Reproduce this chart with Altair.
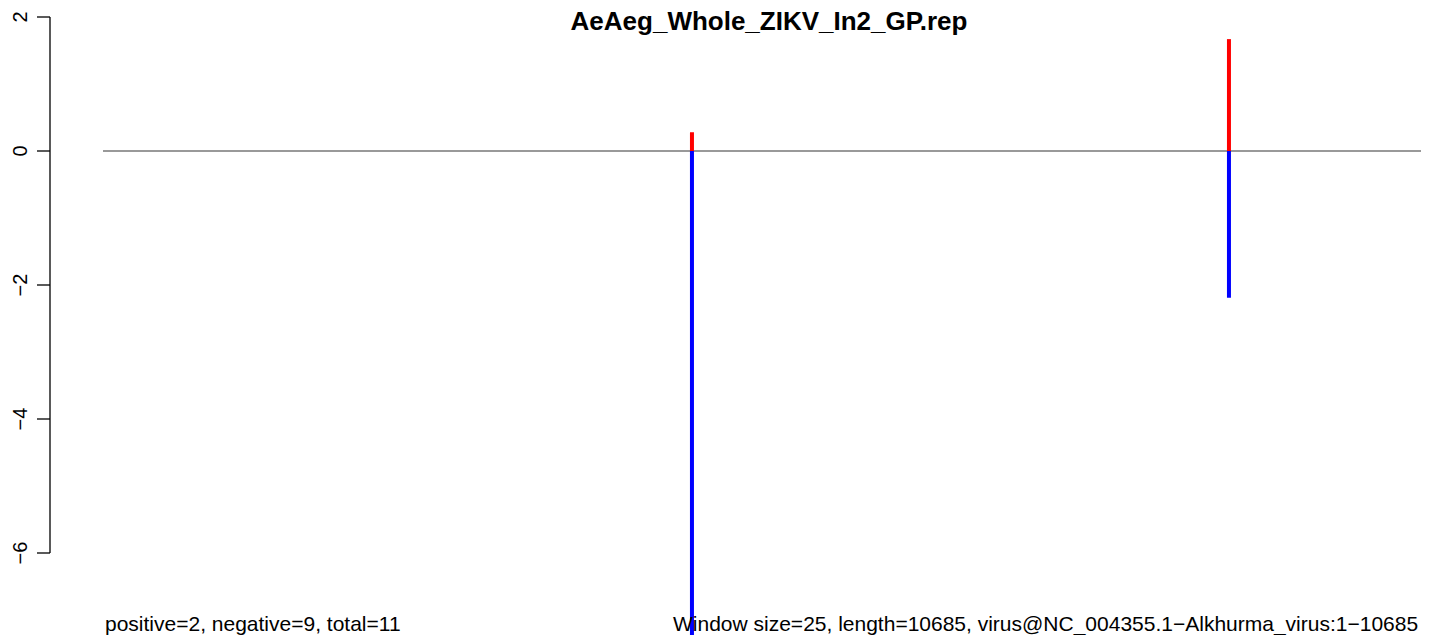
import altair as alt
import pandas as pd

# Data
positions = [4750, 9080]
positive_scores = [0.28, 1.67]
negative_scores = [-7.25, -2.19]
genome_start = 1
genome_length = 10685
y_ticks = [2, 0, -2, -4, -6]

title_text = "AeAeg_Whole_ZIKV_In2_GP.rep"
left_note = "positive=2, negative=9, total=11"
right_note = "Window size=25, length=10685, virus@NC_004355.1\u2212Alkhurma_virus:1\u221210685"

FONT = "Liberation Sans"
W, H = 1413, 627
AX = 42  # view x of the y-axis line (page x = 50)

bars = pd.DataFrame({
    "pos": positions * 2,
    "score": positive_scores + negative_scores,
    "kind": ["positive"] * len(positions) + ["negative"] * len(positions),
})
baseline = pd.DataFrame({"start": [genome_start], "end": [genome_length], "y": [0]})
axisline = pd.DataFrame({"lo": [min(y_ticks)], "hi": [max(y_ticks)]})
ticks_df = pd.DataFrame({
    "v": y_ticks,
    "label": [str(v).replace("-", "\u2212") for v in y_ticks],
})

# view origin at page x=8; 0.124 px per base; value 0 at page y=151
xscale = alt.Scale(domain=[-765.0, 10628.5], nice=False, zero=False)
yscale = alt.Scale(domain=[-(H - 143) / 67.0, 143 / 67.0], nice=False, zero=False)

base_line = alt.Chart(baseline).mark_rule(color="#777777", strokeWidth=1.6).encode(
    x=alt.X("start:Q", scale=xscale, axis=None),
    x2="end:Q",
    y=alt.Y("y:Q", scale=yscale, axis=None),
)

bar_rules = alt.Chart(bars).mark_rule(strokeWidth=4).encode(
    x=alt.X("pos:Q", scale=xscale, axis=None),
    y=alt.Y("score:Q", scale=yscale, axis=None),
    y2=alt.datum(0),
    color=alt.Color("kind:N", scale=alt.Scale(domain=["positive", "negative"],
                                              range=["#ff0000", "#0000ff"]), legend=None),
)

y_axis_line = alt.Chart(axisline).mark_rule(color="#000000", strokeWidth=1.3).encode(
    x=alt.value(AX),
    y=alt.Y("lo:Q", scale=yscale, axis=None),
    y2="hi:Q",
)

y_tick_marks = alt.Chart(ticks_df).mark_rule(color="#000000", strokeWidth=1.3).encode(
    x=alt.value(AX - 13),
    x2=alt.value(AX),
    y=alt.Y("v:Q", scale=yscale, axis=None),
)

y_tick_labels = alt.Chart(ticks_df).mark_text(
    font=FONT, fontSize=20, angle=270, align="center", baseline="alphabetic", color="#000000"
).encode(
    x=alt.value(AX - 23),
    y=alt.Y("v:Q", scale=yscale, axis=None),
    text="label:N",
)

title_mark = alt.Chart(pd.DataFrame({"t": [title_text]})).mark_text(
    font=FONT, fontSize=26, fontWeight="bold", align="center", baseline="alphabetic",
    color="black").encode(text="t:N", x=alt.value(761), y=alt.value(22))

left_mark = alt.Chart(pd.DataFrame({"t": [left_note]})).mark_text(
    font=FONT, fontSize=21, align="left", baseline="alphabetic", color="black"
).encode(text="t:N", x=alt.value(97), y=alt.value(623))

right_mark = alt.Chart(pd.DataFrame({"t": [right_note]})).mark_text(
    font=FONT, fontSize=21, align="left", baseline="alphabetic", color="black"
).encode(text="t:N", x=alt.value(665), y=alt.value(623))

chart = alt.layer(
    base_line, bar_rules, y_axis_line, y_tick_marks, y_tick_labels,
    title_mark, left_mark, right_mark,
).properties(
    width=W, height=H,
    background="white",
    autosize=alt.AutoSizeParams(type="none"),
    padding={"left": 0, "top": 0, "right": 0, "bottom": 0},
).configure_view(strokeWidth=0, strokeOpacity=0)

chart.save("out.html", embed_options={"renderer": "svg", "actions": False})
